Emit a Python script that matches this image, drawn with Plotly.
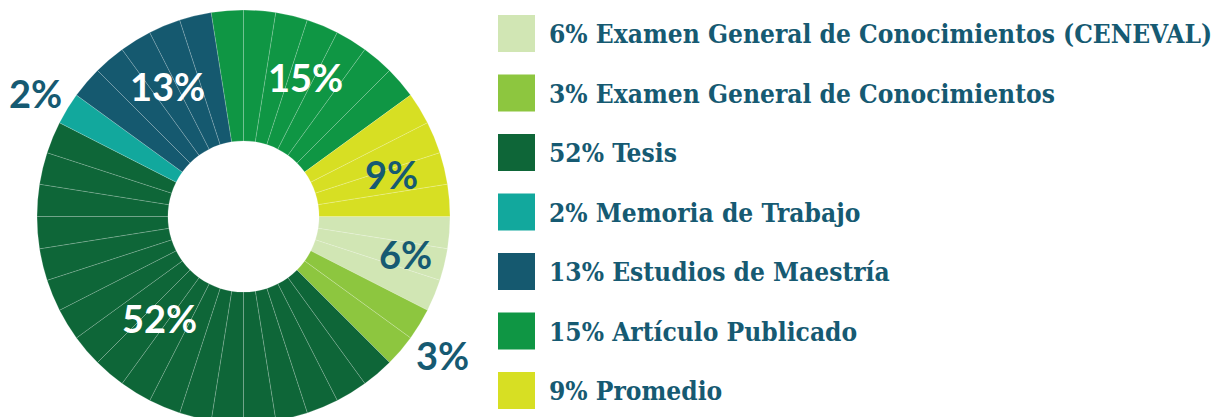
import math
import plotly.graph_objects as go

# ---------------- data ----------------
categories = [
    "Examen General de Conocimientos (CENEVAL)",
    "Examen General de Conocimientos",
    "Tesis",
    "Memoria de Trabajo",
    "Estudios de Maestría",
    "Artículo Publicado",
    "Promedio",
]
percent_labels = [6, 3, 52, 2, 13, 15, 9]          # printed percentages
wedge_counts = [3, 2, 18, 1, 5, 7, 4]               # equal sub-wedges drawn per category

# ---------------- styles ----------------
colors = ["#d1e6b4", "#8dc63f", "#0e6638", "#12a89d", "#15596f", "#0f9644", "#d7df23"]
TEXT_DARK = "#165a72"
label_colors = [TEXT_DARK, TEXT_DARK, "white", TEXT_DARK, "white", "white", TEXT_DARK]
label_radius = [0.803, 1.173, 0.64, 1.173, 0.732, 0.741, 0.743]   # fraction of outer radius
label_angle_shift = [-0.4, -1.1, 3.5, -0.9, 1.5, 1.4, 2.1]       # degrees, clockwise

W, H = 1218, 424
PIE_CX, PIE_CY, PIE_R = 243.5, 216.5, 206.5
HOLE = 0.366
LEG_SWATCH_X, LEG_TEXT_X = 516.5, 549
LEG_TOP, LEG_STEP = 33.5, 59.5
LEG_TEXT_DROP = 3  # px

# ---------------- build slices ----------------
slice_labels, slice_colors = [], []
for cat, n, col in zip(categories, wedge_counts, colors):
    for j in range(n):
        slice_labels.append(f"{cat} #{j + 1}")
        slice_colors.append(col)
slice_values = [1] * len(slice_labels)

fig = go.Figure()

fig.add_trace(go.Pie(
    labels=slice_labels,
    values=slice_values,
    sort=False,
    direction="clockwise",
    rotation=90,
    hole=HOLE,
    textinfo="none",
    hoverinfo="skip",
    showlegend=False,
    marker=dict(colors=slice_colors,
                line=dict(color="rgba(255,255,255,0.25)", width=0.7)),
    domain=dict(x=[(PIE_CX - PIE_R) / W, (PIE_CX + PIE_R) / W],
                y=[1 - (PIE_CY + PIE_R) / H, 1 - (PIE_CY - PIE_R) / H]),
))

# ---------------- percentage labels ----------------
total = sum(wedge_counts)
start = 0
for pct, n, rf, sh, tc in zip(percent_labels, wedge_counts, label_radius,
                              label_angle_shift, label_colors):
    mid = (start + n / 2) / total * 2 * math.pi + math.radians(sh)
    start += n
    x_px = PIE_CX + rf * PIE_R * math.cos(mid)
    y_px = PIE_CY + rf * PIE_R * math.sin(mid)
    fig.add_annotation(
        x=x_px / W, y=1 - y_px / H, xref="paper", yref="paper",
        text=f"{pct}%", showarrow=False, xanchor="center", yanchor="middle",
        font=dict(family="Lato", size=38, color=tc, weight="bold"),
    )

# ---------------- legend (drawn as scatter) ----------------
idx = list(range(len(categories)))
fig.add_trace(go.Scatter(
    x=[LEG_SWATCH_X] * len(idx), y=idx, mode="markers",
    marker=dict(symbol="square", size=37, color=colors, line=dict(width=0)),
    hoverinfo="skip", showlegend=False, cliponaxis=False,
))
fig.add_trace(go.Scatter(
    x=[LEG_TEXT_X] * len(idx), y=idx, mode="text", yaxis="y2",
    text=[f"{p}% {c}" for p, c in zip(percent_labels, categories)],
    textposition="middle right",
    textfont=dict(family="DejaVu Serif Condensed, DejaVu Serif", size=26.1,
                  color=TEXT_DARK, weight="bold"),
    hoverinfo="skip", showlegend=False, cliponaxis=False,
))

half_span = (H / 2) / LEG_STEP
mid_idx = (H / 2 - LEG_TOP) / LEG_STEP
drop = LEG_TEXT_DROP / LEG_STEP
fig.update_layout(
    width=W, height=H,
    margin=dict(l=0, r=0, t=0, b=0),
    paper_bgcolor="white", plot_bgcolor="rgba(0,0,0,0)",
    showlegend=False,
    xaxis=dict(range=[0, W], domain=[0, 1], visible=False, fixedrange=True),
    yaxis=dict(range=[mid_idx + half_span, mid_idx - half_span], domain=[0, 1],
               visible=False, fixedrange=True),
    yaxis2=dict(range=[mid_idx + half_span - drop, mid_idx - half_span - drop],
                domain=[0, 1], overlaying="y", visible=False, fixedrange=True),
)

fig.write_html(
    "out.html",
    config={"displayModeBar": False, "staticPlot": True},
    post_script="document.body.style.margin='0';document.body.style.overflow='hidden';",
)
